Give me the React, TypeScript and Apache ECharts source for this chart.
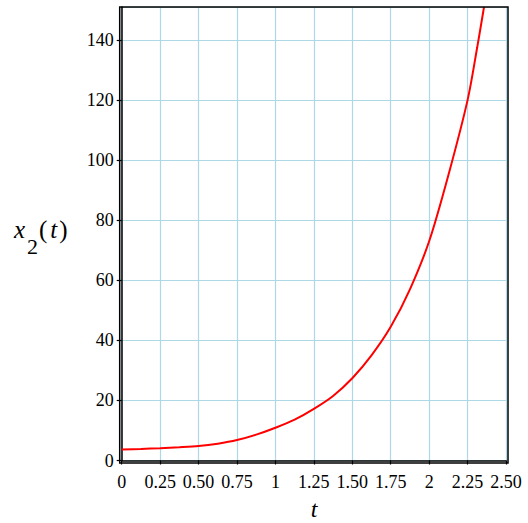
import React, { useEffect, useRef } from "react";
import * as echarts from "echarts";

const tValues = [0, 0.125, 0.25, 0.375, 0.5, 0.625, 0.75, 0.875, 1, 1.125, 1.25, 1.375, 1.5, 1.625, 1.75, 1.875, 2, 2.125, 2.25, 2.3125, 2.357];
const x2Values = [3.7, 3.85, 4.1, 4.4, 4.8, 5.6, 6.8, 8.6, 10.9, 13.6, 17.2, 21.5, 27.4, 35, 44.5, 57, 73, 95, 120, 137.5, 151];
const xTickLabels = ["0", "0.25", "0.50", "0.75", "1", "1.25", "1.50", "1.75", "2", "2.25", "2.50"];

const SERIF = "Liberation Serif";

export default function App() {
  const ref = useRef<HTMLDivElement>(null);
  useEffect(() => {
    if (!ref.current) return;
    const chart = echarts.init(ref.current, null, { renderer: "svg" });
    const data = tValues.map((t, i) => [t, x2Values[i]]);
    chart.setOption({
      animation: false,
      backgroundColor: "#ffffff",
      textStyle: { fontFamily: SERIF },
      grid: { left: 121.7, right: 22, top: 7, bottom: 62.5, containLabel: false },
      xAxis: {
        type: "value",
        min: 0,
        max: 2.5,
        interval: 0.25,
        offset: 2.5,
        axisLine: { show: true, lineStyle: { color: "#000", width: 1.5 } },
        axisTick: { show: true, length: 4, lineStyle: { color: "#000", width: 1.2 } },
        axisLabel: {
          color: "#000",
          fontFamily: SERIF,
          fontSize: 18,
          margin: 10,
          formatter: (v: number) => {
            const idx = Math.round(v / 0.25);
            return xTickLabels[idx] ?? "";
          },
        },
        splitLine: { show: true, lineStyle: { color: "#add8e6", width: 1.2 } },
      },
      yAxis: {
        type: "value",
        min: 0,
        max: 151,
        interval: 20,
        offset: 2,
        axisLine: { show: true, lineStyle: { color: "#000", width: 1.5 } },
        axisTick: { show: true, length: 5, lineStyle: { color: "#000", width: 1.2 } },
        axisLabel: {
          color: "#000",
          fontFamily: SERIF,
          fontSize: 18,
          margin: 6,
          showMaxLabel: false,
          formatter: (v: number) => (v % 20 === 0 ? String(v) : ""),
        },
        splitLine: { show: true, lineStyle: { color: "#add8e6", width: 1.2 } },
      },
      series: [
        {
          type: "line",
          data,
          smooth: 0.3,
          showSymbol: false,
          lineStyle: { color: "#ff0000", width: 2 },
          clip: true,
        },
      ],
      graphic: [
        {
          type: "rect",
          shape: { x: 119.7, y: 7, width: 388.3, height: 456 },
          style: { fill: "none", stroke: "#000", lineWidth: 1.5 },
          z: 100,
          silent: true,
        },
        {
          type: "text",
          x: 314,
          y: 509,
          style: {
            text: "t",
            font: `italic 24px ${SERIF}`,
            fill: "#000",
            align: "center",
            verticalAlign: "middle",
          },
        },
        {
          type: "text",
          x: 14,
          y: 229,
          style: {
            text: "x",
            font: `italic 25px ${SERIF}`,
            fill: "#000",
            align: "left",
            verticalAlign: "middle",
          },
        },
        {
          type: "text",
          x: 27,
          y: 246,
          style: {
            text: "2",
            font: `22px ${SERIF}`,
            fill: "#000",
            align: "left",
            verticalAlign: "middle",
          },
        },
        {
          type: "text",
          x: 39,
          y: 229,
          style: {
            text: "{n|(}{i|t}{n|)}",
            fill: "#000",
            align: "left",
            verticalAlign: "middle",
            rich: {
              n: { font: `25px ${SERIF}`, fill: "#000" },
              i: { font: `italic 25px ${SERIF}`, fill: "#000", padding: [0, 2, 0, 3] },
            },
          },
        },
      ],
    });
    return () => chart.dispose();
  }, []);
  return <div ref={ref} style={{ width: 528, height: 523, position: "absolute", left: 0, top: 0 }} />;
}
